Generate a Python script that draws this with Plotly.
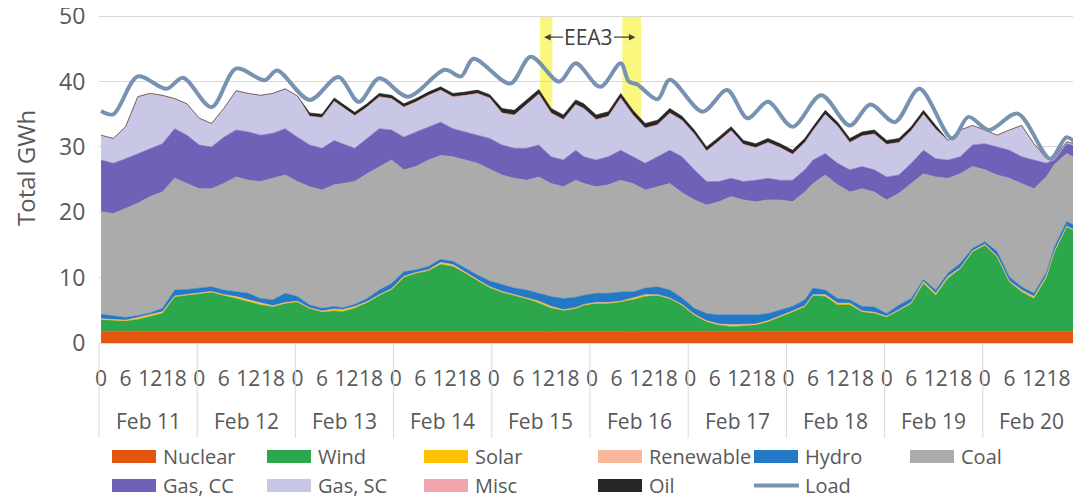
import plotly.graph_objects as go

FONT = "Open Sans"
TXT = "#595959"

# ---------------- data (hour index from Feb 11 00:00) ----------------
days = ["Feb 11", "Feb 12", "Feb 13", "Feb 14", "Feb 15",
        "Feb 16", "Feb 17", "Feb 18", "Feb 19", "Feb 20"]
hour_ticks = [0, 6, 12, 18]

hours = [0, 3, 6, 9, 12, 15, 18, 21, 24, 27,
         30, 33, 36, 39, 42, 45, 48, 51, 54, 57,
         59, 62, 65, 68, 71, 74, 77, 80, 83, 86,
         89, 92, 95, 98, 101, 104, 107, 110, 113, 116,
         118, 121, 124, 127, 130, 133, 136, 139, 142, 145,
         148, 151, 154, 157, 160, 163, 166, 169, 172, 174,
         177, 180, 183, 186, 189, 192, 195, 198, 201, 204,
         207, 210, 213, 216, 219, 222, 225, 228, 231, 233,
         236, 239]

nuclear = [1.8, 1.8, 1.8, 1.8, 1.8, 1.8, 1.8, 1.8, 1.8, 1.8,
           1.8, 1.8, 1.8, 1.8, 1.8, 1.8, 1.8, 1.8, 1.8, 1.8,
           1.8, 1.8, 1.8, 1.8, 1.8, 1.8, 1.8, 1.8, 1.8, 1.8,
           1.8, 1.8, 1.8, 1.8, 1.8, 1.8, 1.8, 1.8, 1.8, 1.8,
           1.8, 1.8, 1.8, 1.8, 1.8, 1.8, 1.8, 1.8, 1.8, 1.8,
           1.8, 1.8, 1.8, 1.8, 1.8, 1.8, 1.8, 1.8, 1.8, 1.8,
           1.8, 1.8, 1.8, 1.8, 1.8, 1.8, 1.8, 1.8, 1.8, 1.8,
           1.8, 1.8, 1.8, 1.8, 1.8, 1.8, 1.8, 1.8, 1.8, 1.8,
           1.8, 1.8]

wind = [1.8, 1.7, 1.6, 1.8, 2.2, 2.7, 5.3, 5.5, 5.8, 6.0,
        5.5, 5.0, 4.5, 4.0, 3.8, 4.3, 4.5, 3.5, 3.0, 3.1,
        3.0, 3.5, 4.4, 5.5, 6.4, 8.3, 8.9, 9.3, 10.2, 9.9,
        8.9, 7.8, 6.7, 6.0, 5.5, 5.0, 4.3, 3.5, 3.2, 3.5,
        4.0, 4.3, 4.3, 4.5, 4.8, 5.3, 5.5, 5.0, 4.0, 2.5,
        1.5, 1.0, 0.7, 0.8, 1.0, 1.5, 2.2, 3.0, 3.8, 5.5,
        5.3, 4.0, 4.0, 3.0, 2.8, 2.2, 3.2, 4.3, 7.3, 5.5,
        8.1, 9.6, 12.2, 13.2, 11.4, 7.6, 6.0, 5.0, 8.1, 12.2,
        16.0, 15.0]

solar = [0.0, 0.0, 0.0, 0.2, 0.2, 0.2, 0.0, 0.0, 0.0, 0.0,
         0.0, 0.2, 0.2, 0.2, 0.0, 0.0, 0.0, 0.0, 0.0, 0.2,
         0.2, 0.2, 0.0, 0.0, 0.0, 0.0, 0.0, 0.0, 0.2, 0.2,
         0.0, 0.0, 0.0, 0.0, 0.0, 0.0, 0.2, 0.2, 0.0, 0.0,
         0.0, 0.0, 0.0, 0.0, 0.2, 0.2, 0.0, 0.0, 0.0, 0.0,
         0.0, 0.0, 0.2, 0.2, 0.0, 0.0, 0.0, 0.0, 0.0, 0.0,
         0.2, 0.2, 0.2, 0.0, 0.0, 0.0, 0.0, 0.0, 0.2, 0.2,
         0.2, 0.0, 0.0, 0.0, 0.0, 0.0, 0.2, 0.2, 0.2, 0.0,
         0.0, 0.0]

renewable = [0.1, 0.1, 0.1, 0.1, 0.1, 0.1, 0.1, 0.1, 0.1, 0.1,
             0.1, 0.1, 0.1, 0.1, 0.1, 0.1, 0.1, 0.1, 0.1, 0.1,
             0.1, 0.1, 0.1, 0.1, 0.1, 0.1, 0.1, 0.1, 0.1, 0.1,
             0.1, 0.1, 0.1, 0.1, 0.1, 0.1, 0.1, 0.1, 0.1, 0.1,
             0.1, 0.1, 0.1, 0.1, 0.1, 0.1, 0.1, 0.1, 0.1, 0.1,
             0.1, 0.1, 0.1, 0.1, 0.1, 0.1, 0.1, 0.1, 0.1, 0.1,
             0.1, 0.1, 0.1, 0.1, 0.1, 0.1, 0.1, 0.1, 0.1, 0.1,
             0.1, 0.1, 0.1, 0.1, 0.1, 0.1, 0.1, 0.1, 0.1, 0.1,
             0.1, 0.1]

hydro = [0.7, 0.5, 0.4, 0.3, 0.3, 0.5, 0.9, 0.8, 0.7, 0.7,
         0.7, 0.7, 1.0, 0.7, 0.9, 1.4, 0.7, 0.4, 0.4, 0.4,
         0.3, 0.3, 0.5, 0.7, 0.8, 0.7, 0.4, 0.5, 0.5, 0.5,
         0.6, 0.7, 0.9, 1.0, 1.0, 1.2, 1.2, 1.5, 1.7, 1.6,
         1.4, 1.4, 1.4, 1.4, 0.9, 1.0, 1.2, 1.2, 1.0, 0.9,
         1.1, 1.4, 1.5, 1.4, 1.4, 1.1, 0.9, 0.7, 0.9, 1.0,
         0.7, 0.7, 0.5, 0.7, 0.8, 0.4, 0.7, 0.6, 0.3, 0.5,
         0.5, 0.7, 0.4, 0.4, 0.7, 0.6, 0.5, 0.5, 0.5, 0.6,
         0.7, 0.7]

coal = [15.7, 15.7, 16.7, 17.2, 17.8, 17.8, 17.1, 16.2, 15.2, 15.0,
        16.3, 17.6, 17.3, 17.9, 18.6, 18.1, 17.6, 18.1, 18.1, 18.6,
        19.0, 18.8, 19.1, 18.9, 18.9, 15.6, 15.8, 16.3, 15.9, 16.0,
        16.6, 17.1, 17.1, 16.8, 16.8, 16.8, 17.8, 17.3, 17.1, 17.9,
        17.1, 16.3, 16.6, 17.1, 16.6, 15.0, 15.3, 16.3, 16.1, 16.6,
        16.6, 17.3, 18.1, 17.6, 17.3, 17.4, 16.9, 16.0, 16.5, 16.0,
        17.6, 17.4, 16.5, 18.0, 17.6, 17.4, 17.1, 17.6, 16.2, 17.3,
        14.5, 13.7, 12.5, 11.0, 11.7, 15.1, 15.8, 16.0, 14.7, 12.6,
        10.4, 10.4]

gas_cc = [7.9, 7.7, 7.6, 7.6, 7.4, 7.4, 7.6, 7.4, 6.7, 6.4,
          7.1, 7.2, 7.4, 7.1, 6.9, 7.1, 6.8, 6.4, 6.4, 6.8,
          6.1, 5.1, 5.4, 5.8, 4.6, 5.0, 5.3, 5.1, 5.1, 4.3,
          4.3, 4.3, 4.7, 4.6, 4.6, 4.9, 4.9, 4.1, 4.1, 4.6,
          4.1, 4.1, 4.3, 4.6, 4.1, 4.1, 4.6, 5.1, 5.5, 4.6,
          3.6, 3.1, 2.8, 2.8, 3.3, 3.3, 3.0, 3.3, 3.4, 3.6,
          3.3, 3.3, 3.4, 3.4, 3.4, 3.5, 2.8, 3.1, 3.6, 2.8,
          2.8, 2.6, 3.3, 4.0, 4.3, 4.3, 4.1, 4.4, 2.1, 0.7,
          1.5, 2.0]

gas_sc = [3.7, 3.7, 4.8, 8.6, 8.3, 7.3, 4.5, 4.7, 4.0, 3.5,
          4.3, 5.9, 5.8, 6.0, 6.0, 6.0, 6.2, 4.3, 4.6, 5.9,
          5.5, 4.9, 4.7, 4.8, 4.7, 4.5, 4.5, 4.7, 4.8, 4.8,
          5.5, 6.3, 6.1, 4.8, 5.0, 6.6, 7.7, 6.6, 6.1, 6.9,
          7.3, 6.1, 6.1, 7.9, 6.3, 5.3, 4.8, 5.6, 5.5, 5.4,
          4.6, 6.1, 7.2, 5.6, 4.9, 5.4, 4.9, 3.9, 4.1, 4.4,
          5.9, 5.6, 4.1, 4.6, 5.4, 4.9, 4.9, 4.9, 5.4, 4.4,
          2.9, 4.0, 2.9, 2.0, 1.7, 3.0, 4.7, 2.4, 0.7, 0.2,
          0.2, 0.2]

misc = [0.1, 0.1, 0.1, 0.1, 0.1, 0.1, 0.1, 0.1, 0.1, 0.1,
        0.1, 0.1, 0.1, 0.1, 0.1, 0.1, 0.1, 0.1, 0.1, 0.1,
        0.1, 0.1, 0.1, 0.1, 0.1, 0.1, 0.1, 0.1, 0.1, 0.1,
        0.1, 0.1, 0.1, 0.1, 0.1, 0.1, 0.1, 0.1, 0.1, 0.1,
        0.1, 0.1, 0.1, 0.1, 0.1, 0.1, 0.1, 0.1, 0.1, 0.1,
        0.1, 0.1, 0.1, 0.1, 0.1, 0.1, 0.1, 0.1, 0.1, 0.1,
        0.1, 0.1, 0.1, 0.1, 0.1, 0.1, 0.1, 0.1, 0.1, 0.1,
        0.1, 0.1, 0.1, 0.1, 0.1, 0.1, 0.1, 0.1, 0.1, 0.1,
        0.1, 0.1]

oil = [0.0, 0.0, 0.0, 0.0, 0.0, 0.0, 0.0, 0.0, 0.0, 0.0,
       0.0, 0.0, 0.0, 0.0, 0.0, 0.0, 0.0, 0.5, 0.5, 0.5,
       0.5, 0.5, 0.5, 0.5, 0.5, 0.5, 0.5, 0.5, 0.5, 0.5,
       0.5, 0.5, 0.5, 0.7, 0.7, 0.7, 0.7, 0.7, 0.7, 0.7,
       0.7, 0.7, 0.7, 0.7, 0.7, 0.7, 0.7, 0.7, 0.6, 0.6,
       0.6, 0.6, 0.6, 0.6, 0.6, 0.6, 0.6, 0.6, 0.6, 0.6,
       0.6, 0.6, 0.6, 0.6, 0.6, 0.6, 0.6, 0.6, 0.6, 0.6,
       0.0, 0.0, 0.0, 0.0, 0.0, 0.0, 0.0, 0.0, 0.0, 0.0,
       0.0, 0.0]

load_hours = [0, 3, 9, 16, 20, 27, 33, 40, 43, 51,
              58, 63, 68, 75, 84, 88, 91, 100, 105, 112,
              116, 122, 127, 129, 131, 136, 139, 147, 153, 158,
              163, 169, 176, 183, 188, 194, 200, 208, 212, 217,
              224, 232, 236, 239]
load = [35.5, 35.0, 40.8, 38.9, 40.6, 36.1, 42.0, 40.2, 41.7, 37.2,
        40.7, 36.9, 40.5, 37.7, 41.8, 40.8, 43.5, 39.7, 43.8, 40.0,
        42.8, 39.2, 42.8, 40.0, 39.6, 37.3, 40.3, 35.4, 38.7, 34.4,
        36.9, 33.1, 37.9, 33.3, 36.5, 33.8, 38.9, 31.3, 34.6, 32.6,
        35.1, 28.2, 31.5, 30.0]

eea3_bands = [(107.3, 110.3), (127.4, 132.0)]

# ---------------- styling ----------------
series = [
    ("Nuclear", nuclear, "#E4560F"),
    ("Wind", wind, "#2CA74B"),
    ("Solar", solar, "#FFC000"),
    ("Renewable", renewable, "#F8B79C"),
    ("Hydro", hydro, "#2479C7"),
    ("Coal", coal, "#ABABAB"),
    ("Gas, CC", gas_cc, "#7061B8"),
    ("Gas, SC", gas_sc, "#C9C7E6"),
    ("Misc", misc, "#F0A5AE"),
    ("Oil", oil, "#262626"),
]
LOAD_COL = "#7893B2"

# The page body has an 8px margin, so the figure is shifted by OFF pixels.
OFF = 8
PAGE_W, PAGE_H = 1081, 499
W, H = PAGE_W - OFF, PAGE_H - OFF
Y_TOP = 50.5
PLOT_LEFT, PLOT_BASE = 99, 343            # page pixels of x-axis start and y = 0
PX_PER_UNIT = 6.54
PH = round(Y_TOP * PX_PER_UNIT)
L = PLOT_LEFT - OFF
B = H - (PLOT_BASE - OFF)
T = H - B - PH
R = 0
PW = W - L - R


def px(x_page):
    return (x_page - PLOT_LEFT) / PW


def py(y_page):
    return (PLOT_BASE - y_page) / PH


fig = go.Figure()
for name, vals, col in series:
    fig.add_trace(go.Scatter(
        x=hours, y=vals, name=name, stackgroup="gen", mode="lines",
        line=dict(width=0.6, color=col), fillcolor=col,
        showlegend=False, hoverinfo="skip"))

fig.add_trace(go.Scatter(
    x=load_hours, y=load, name="Load", mode="lines",
    line=dict(color=LOAD_COL, width=4, shape="spline", smoothing=0.9),
    showlegend=False, hoverinfo="skip"))

shapes = []
for x0, x1 in eea3_bands:
    shapes.append(dict(type="rect", xref="x", yref="y", x0=x0, x1=x1, y0=0, y1=50,
                       fillcolor="#FAF77F", line=dict(width=0), layer="below"))
for d in range(len(days) + 1):
    shapes.append(dict(type="line", xref="paper", yref="paper",
                       x0=d / len(days), x1=d / len(days), y0=0, y1=py(438),
                       line=dict(color="#D9D9D9", width=1)))

annotations = []
for d, lab in enumerate(days):
    annotations.append(dict(x=24 * d + 11.5, y=py(421), xref="x", yref="paper",
                            text=lab, showarrow=False, xanchor="center", yanchor="middle",
                            font=dict(family=FONT, size=21, color=TXT)))

annotations.append(dict(x=px(25), y=py(168), xref="paper", yref="paper",
                        text="Total GWh", textangle=-90, showarrow=False,
                        xanchor="center", yanchor="middle",
                        font=dict(family=FONT, size=24, color=TXT)))

# EEA3 label with arrows
annotations.append(dict(x=119.1, y=46.8, xref="x", yref="y", text="EEA3",
                        showarrow=False, xanchor="center", yanchor="middle",
                        font=dict(family=FONT, size=21, color="#404040")))
for head, tail in [(108.3, 113.3), (130.6, 125.0)]:
    annotations.append(dict(x=head, y=46.8, ax=tail, ay=46.8, xref="x", yref="y",
                            axref="x", ayref="y", text="", showarrow=True,
                            arrowhead=2, arrowsize=1, arrowwidth=1.3,
                            arrowcolor="#404040"))

# manual legend
legend_items = [
    (112, 0, "Nuclear"), (267, 0, "Wind"), (424, 0, "Solar"),
    (598, 0, "Renewable"), (754, 0, "Hydro"), (910, 0, "Coal"),
    (112, 1, "Gas, CC"), (267, 1, "Gas, SC"), (424, 1, "Misc"),
    (598, 1, "Oil"), (754, 1, "Load"),
]
colors = {n: c for n, _, c in series}
row_y = [(450, 463), (479, 492)]
for xs, row, name in legend_items:
    y0, y1 = row_y[row]
    ym = (y0 + y1) / 2
    if name == "Load":
        shapes.append(dict(type="line", xref="paper", yref="paper",
                           x0=px(xs), x1=px(xs + 45), y0=py(ym), y1=py(ym),
                           line=dict(color=LOAD_COL, width=4)))
    else:
        shapes.append(dict(type="rect", xref="paper", yref="paper",
                           x0=px(xs), x1=px(xs + 44), y0=py(y1), y1=py(y0),
                           fillcolor=colors[name], line=dict(width=0)))
    annotations.append(dict(x=px(xs + 49), y=py(ym), xref="paper", yref="paper",
                            text=name, showarrow=False, xanchor="left", yanchor="middle",
                            font=dict(family=FONT, size=20, color=TXT)))

tickvals = [24 * d + t for d in range(len(days)) for t in hour_ticks]
ticktext = [str(t) for d in range(len(days)) for t in hour_ticks]

fig.update_layout(
    width=W, height=H,
    margin=dict(l=L, r=R, t=T, b=B, pad=0),
    paper_bgcolor="white", plot_bgcolor="white",
    font=dict(family=FONT, color=TXT),
    showlegend=False,
    shapes=shapes, annotations=annotations,
    xaxis=dict(range=[-0.5, 239.5], tickmode="array", tickvals=tickvals, ticktext=ticktext,
               tickangle=0,
               ticks="outside", ticklen=17, tickcolor="rgba(0,0,0,0)",
               tickfont=dict(family=FONT, size=21, color=TXT),
               showgrid=False, zeroline=False, showline=True, linecolor="#D9D9D9",
               linewidth=1, automargin=False, fixedrange=True),
    yaxis=dict(range=[0, Y_TOP], tickmode="array", tickvals=[0, 10, 20, 30, 40, 50],
               ticks="outside", ticklen=8, tickcolor="rgba(0,0,0,0)",
               tickfont=dict(family=FONT, size=23, color=TXT),
               ticklabeloverflow="allow",
               showgrid=True, gridcolor="#D9D9D9", gridwidth=1,
               zeroline=False, showline=False, automargin=False, fixedrange=True),
)

fig.write_html("out.html")
